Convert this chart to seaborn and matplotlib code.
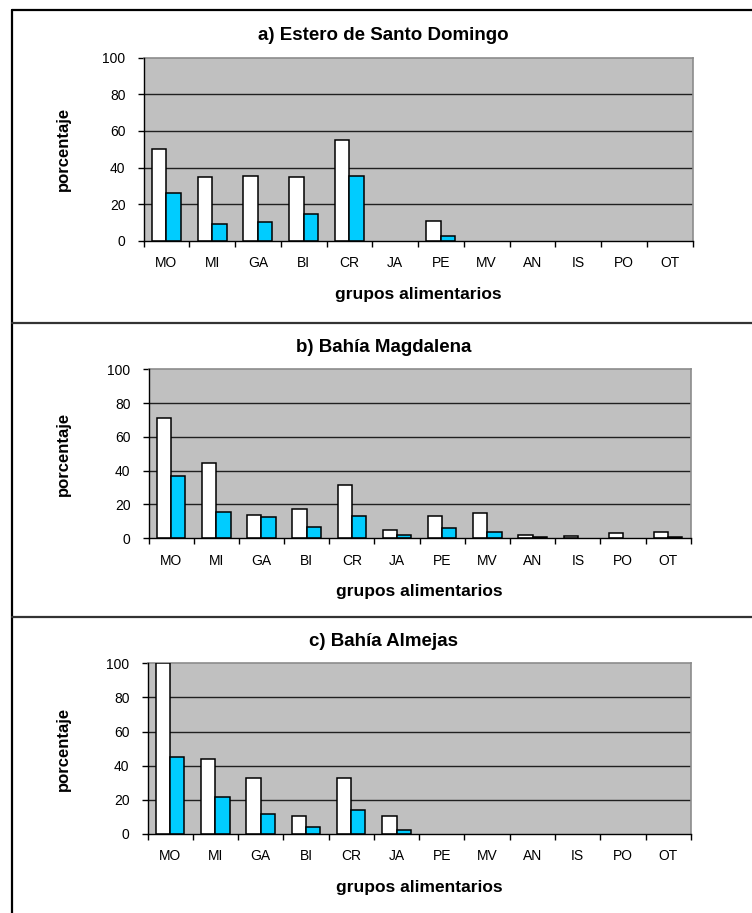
import matplotlib
matplotlib.use("Agg")
import matplotlib.pyplot as plt
from matplotlib.lines import Line2D
from matplotlib.ticker import FixedLocator, NullFormatter
import seaborn as sns
import pandas as pd

sns.set_style("white")
plt.rcParams['font.family'] = ['Liberation Sans', 'DejaVu Sans']
plt.rcParams['text.color'] = 'black'
plt.rcParams['axes.labelcolor'] = 'black'
plt.rcParams['xtick.color'] = 'black'
plt.rcParams['ytick.color'] = 'black'

grupos = ["MO", "MI", "GA", "BI", "CR", "JA", "PE", "MV", "AN", "IS", "PO", "OT"]
series = ["serie 1", "serie 2"]
titulos = ["a) Estero de Santo Domingo", "b) Bahía Magdalena", "c) Bahía Almejas"]

a_serie1 = [50, 35, 35.3, 34.7, 54.8, 0, 10.7, 0, 0, 0, 0, 0]
a_serie2 = [26, 9.3, 10, 14.4, 35.3, 0, 2.7, 0, 0, 0, 0, 0]
b_serie1 = [71.2, 44.4, 14.0, 17.6, 31.8, 5.1, 13.2, 14.8, 2.2, 1.6, 3.0, 3.7]
b_serie2 = [37.1, 15.6, 12.4, 6.7, 13.2, 2.2, 5.9, 3.7, 0.8, 0, 0, 0.8]
c_serie1 = [100, 43.8, 32.8, 10.7, 32.8, 10.7, 0, 0, 0, 0, 0, 0]
c_serie2 = [45.3, 21.7, 11.5, 4.1, 13.7, 2.1, 0, 0, 0, 0, 0, 0]

yticks = [0, 20, 40, 60, 80, 100]
colores = ["#FFFFFF", "#00CCFF"]

datos = [(a_serie1, a_serie2), (b_serie1, b_serie2), (c_serie1, c_serie2)]

W, H = 752, 913
fig = plt.figure(figsize=(W / 100, H / 100), dpi=100)

# axes boxes in pixels: left, right, top, bottom
boxes = [(143.5, 692.5, 57.7, 240.8),
         (148.5, 690.8, 369.3, 538.3),
         (147.5, 690.8, 663.3, 833.8)]

for (s1, s2), titulo, (l, r, t, b) in zip(datos, titulos, boxes):
    ax = fig.add_axes([l / W, 1 - b / H, (r - l) / W, (b - t) / H])
    df = pd.DataFrame({
        "grupo": grupos * 2,
        "valor": list(s1) + list(s2),
        "serie": [series[0]] * len(grupos) + [series[1]] * len(grupos),
    })
    sns.barplot(data=df, x="grupo", y="valor", hue="serie", order=grupos,
                hue_order=series, palette=colores, saturation=1,
                edgecolor="black", linewidth=1.1, width=0.63, gap=0,
                errorbar=None, legend=False, ax=ax, zorder=3)
    for p in ax.patches:
        if p.get_height() == 0:
            p.set_edgecolor("none")
    ax.set_facecolor("#C0C0C0")
    ax.set_xlim(-0.5, len(grupos) - 0.5)
    ax.set_ylim(0, 100)
    ax.set_yticks(yticks)
    ax.set_yticklabels([str(v) for v in yticks])
    for yv in yticks[1:-1]:
        ax.axhline(yv, color="#202020", lw=1.0, zorder=1)
    for side in ["top", "right"]:
        ax.spines[side].set_color("#8C8C8C")
        ax.spines[side].set_linewidth(1.2)
    for side in ["left", "bottom"]:
        ax.spines[side].set_color("black")
        ax.spines[side].set_linewidth(1.0)
        ax.spines[side].set_zorder(4)
    ax.xaxis.set_minor_locator(FixedLocator([i - 0.5 for i in range(len(grupos) + 1)]))
    ax.xaxis.set_minor_formatter(NullFormatter())
    ax.tick_params(axis="x", which="major", length=0, pad=11, labelsize=10,
                   labelcolor="black")
    ax.tick_params(axis="x", which="minor", length=4, width=1, color="black",
                   direction="out", bottom=True)
    ax.tick_params(axis="y", length=4, width=1, color="black", direction="out",
                   pad=9, labelsize=10, left=True, labelcolor="black")
    ax.set_xlabel("grupos alimentarios", fontsize=12.5, fontweight="bold",
                  color="black")
    ax.xaxis.set_label_coords(0.5, -46 / (b - t))
    ax.xaxis.label.set_va("top")
    ax.set_ylabel("porcentaje", fontsize=12, fontweight="bold", color="black")
    ax.yaxis.set_label_coords(-(l - 71) / (r - l), 0.5)
    ax.set_title(titulo, x=(383.5 - l) / (r - l), y=1 + 22 / (b - t), pad=0,
                 va="center", fontsize=13.5, fontweight="bold", color="black")

# chart frame lines
lw = 1.6
frame_left = 11.5 / W
fig.add_artist(Line2D([frame_left, 1], [1 - 10 / H, 1 - 10 / H], color="black", lw=lw))
fig.add_artist(Line2D([frame_left, frame_left], [0, 1 - 10 / H], color="black", lw=lw))
for yy in [323.3, 617.0]:
    fig.add_artist(Line2D([frame_left, 1], [1 - yy / H, 1 - yy / H], color="#333333", lw=lw))

fig.savefig("out.png", dpi=100)
